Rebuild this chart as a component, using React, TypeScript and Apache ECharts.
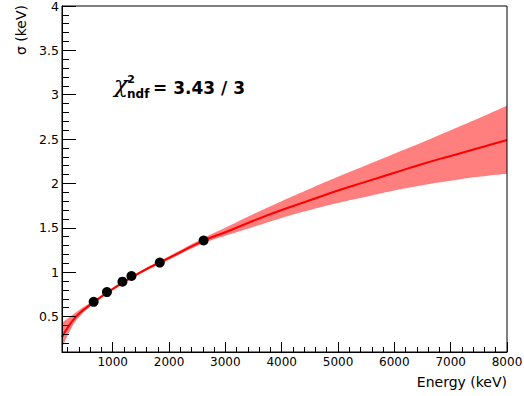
import React, { useEffect, useRef } from "react";
import * as echarts from "echarts";

// Measured data points (Energy keV, sigma keV)
const pointEnergy = [662, 898, 1173, 1333, 1836, 2614];
const pointSigma = [0.665, 0.775, 0.893, 0.957, 1.108, 1.357];

// Fit curve
const curveEnergy = [100, 250, 400, 662, 1000, 1500, 2000, 2614, 3000, 3500, 4000, 4500, 5000, 5500, 6000, 6500, 7000, 7500, 8000];
const curveSigma = [0.27, 0.42, 0.53, 0.66, 0.81, 1.0, 1.16, 1.355, 1.45, 1.58, 1.7, 1.81, 1.92, 2.02, 2.12, 2.22, 2.31, 2.4, 2.49];
const bandUpper = [0.43, 0.5, 0.57, 0.68, 0.825, 1.015, 1.18, 1.385, 1.5, 1.655, 1.8, 1.94, 2.075, 2.205, 2.335, 2.465, 2.6, 2.735, 2.875];
const bandLower = [0.14, 0.35, 0.49, 0.64, 0.795, 0.985, 1.14, 1.325, 1.41, 1.51, 1.61, 1.7, 1.78, 1.85, 1.92, 1.98, 2.03, 2.075, 2.11];

// Axis ticks
const xMajorTicks = [1000, 2000, 3000, 4000, 5000, 6000, 7000, 8000];
const xMinorTicks = [200, 400, 600, 800, 1200, 1400, 1600, 1800, 2200, 2400, 2600, 2800, 3200, 3400, 3600, 3800, 4200, 4400, 4600, 4800, 5200, 5400, 5600, 5800, 6200, 6400, 6600, 6800, 7200, 7400, 7600, 7800];
const yMajorTicks = [0.5, 1, 1.5, 2, 2.5, 3, 3.5, 4];
const yMinorTicks = [0.2, 0.3, 0.4, 0.6, 0.7, 0.8, 0.9, 1.1, 1.2, 1.3, 1.4, 1.6, 1.7, 1.8, 1.9, 2.1, 2.2, 2.3, 2.4, 2.6, 2.7, 2.8, 2.9, 3.1, 3.2, 3.3, 3.4, 3.6, 3.7, 3.8, 3.9];

const X_MIN = 100;
const X_MAX = 8000;
const Y_MIN = 0.1;
const Y_MAX = 4;

const FONT = "DejaVu Sans";
const SMOOTH = 0.5;

export default function App() {
  const ref = useRef<HTMLDivElement>(null);
  useEffect(() => {
    if (!ref.current) return;
    const chart = echarts.init(ref.current, null, { renderer: "svg" });
    const black = "#000";
    const baseX = {
      type: "value",
      min: X_MIN,
      max: X_MAX,
      position: "bottom",
      splitLine: { show: false },
      z: 10,
    };
    const baseY = {
      type: "value",
      min: Y_MIN,
      max: Y_MAX,
      position: "left",
      splitLine: { show: false },
      z: 10,
    };
    chart.setOption({
      animation: false,
      backgroundColor: "#fff",
      grid: {
        left: 62,
        right: 17,
        top: 6,
        bottom: 44,
        show: true,
        borderColor: black,
        borderWidth: 1,
        containLabel: false,
        outerBoundsMode: "none",
        z: 10,
      },
      xAxis: [
        {
          ...baseX,
          axisLine: { show: true, onZero: false, lineStyle: { color: black, width: 1 } },
          axisTick: { show: true, inside: true, length: 10, customValues: xMajorTicks, lineStyle: { color: black } },
          axisLabel: {
            show: true,
            customValues: xMajorTicks,
            margin: 4,
            color: black,
            fontFamily: FONT,
            fontSize: 12,
            formatter: (v: number) => String(v),
          },
        },
        {
          ...baseX,
          axisLine: { show: false, onZero: false },
          axisTick: { show: true, inside: true, length: 5, customValues: xMinorTicks, lineStyle: { color: black } },
          axisLabel: { show: false },
        },
      ],
      yAxis: [
        {
          ...baseY,
          axisLine: { show: true, onZero: false, lineStyle: { color: black, width: 1 } },
          axisTick: { show: true, inside: true, length: 14, customValues: yMajorTicks, lineStyle: { color: black } },
          axisLabel: {
            show: true,
            customValues: yMajorTicks,
            margin: 3,
            color: black,
            fontFamily: FONT,
            fontSize: 12.5,
            formatter: (v: number) => String(v),
          },
        },
        {
          ...baseY,
          axisLine: { show: false, onZero: false },
          axisTick: { show: true, inside: true, length: 7, customValues: yMinorTicks, lineStyle: { color: black } },
          axisLabel: { show: false },
        },
      ],
      series: [
        {
          type: "line",
          name: "bandUpper",
          smooth: SMOOTH,
          symbol: "none",
          silent: true,
          lineStyle: { width: 0, opacity: 0 },
          areaStyle: { color: "#ff7f7f", opacity: 1, origin: "start" },
          data: curveEnergy.map((e, i) => [e, bandUpper[i]]),
          z: 1,
        },
        {
          type: "line",
          name: "bandLower",
          smooth: SMOOTH,
          symbol: "none",
          silent: true,
          lineStyle: { width: 0, opacity: 0 },
          areaStyle: { color: "#ffffff", opacity: 1, origin: "start" },
          data: curveEnergy.map((e, i) => [e, bandLower[i]]),
          z: 2,
        },
        {
          type: "line",
          name: "fit",
          smooth: SMOOTH,
          symbol: "none",
          lineStyle: { color: "#ff0000", width: 2 },
          data: curveEnergy.map((e, i) => [e, curveSigma[i]]),
          z: 3,
        },
        {
          type: "scatter",
          name: "data",
          symbol: "circle",
          symbolSize: 10,
          itemStyle: { color: "#000", opacity: 1 },
          data: pointEnergy.map((e, i) => [e, pointSigma[i]]),
          z: 5,
        },
      ],
      graphic: [
        {
          type: "text",
          x: 507,
          y: 382,
          z: 100,
          style: { text: "Energy (keV)", font: `14px "${FONT}"`, fill: black, align: "right", verticalAlign: "middle" },
        },
        {
          type: "text",
          x: 20.5,
          y: 5,
          z: 100,
          rotation: Math.PI / 2,
          style: { text: "σ (keV)", font: `14px "${FONT}"`, fill: black, align: "right", verticalAlign: "middle" },
        },
        {
          type: "text",
          x: 114,
          y: 84,
          z: 100,
          style: { text: "χ", font: `italic 23px "DejaVu Serif"`, fill: black, align: "left", verticalAlign: "middle" },
        },
        {
          type: "text",
          x: 131,
          y: 79.5,
          z: 100,
          style: { text: "2", font: `bold 11px "${FONT}"`, fill: black, align: "center", verticalAlign: "middle" },
        },
        {
          type: "text",
          x: 127,
          y: 93.5,
          z: 100,
          style: { text: "ndf", font: `bold 12px "${FONT}"`, fill: black, align: "left", verticalAlign: "middle" },
        },
        {
          type: "text",
          x: 153,
          y: 88,
          z: 100,
          style: { text: "= 3.43 / 3", font: `bold 17px "${FONT}"`, fill: black, align: "left", verticalAlign: "middle" },
        },
      ],
    });
    return () => chart.dispose();
  }, []);
  return <div ref={ref} style={{ position: "fixed", left: 0, top: 0, width: 524, height: 396 }} />;
}
